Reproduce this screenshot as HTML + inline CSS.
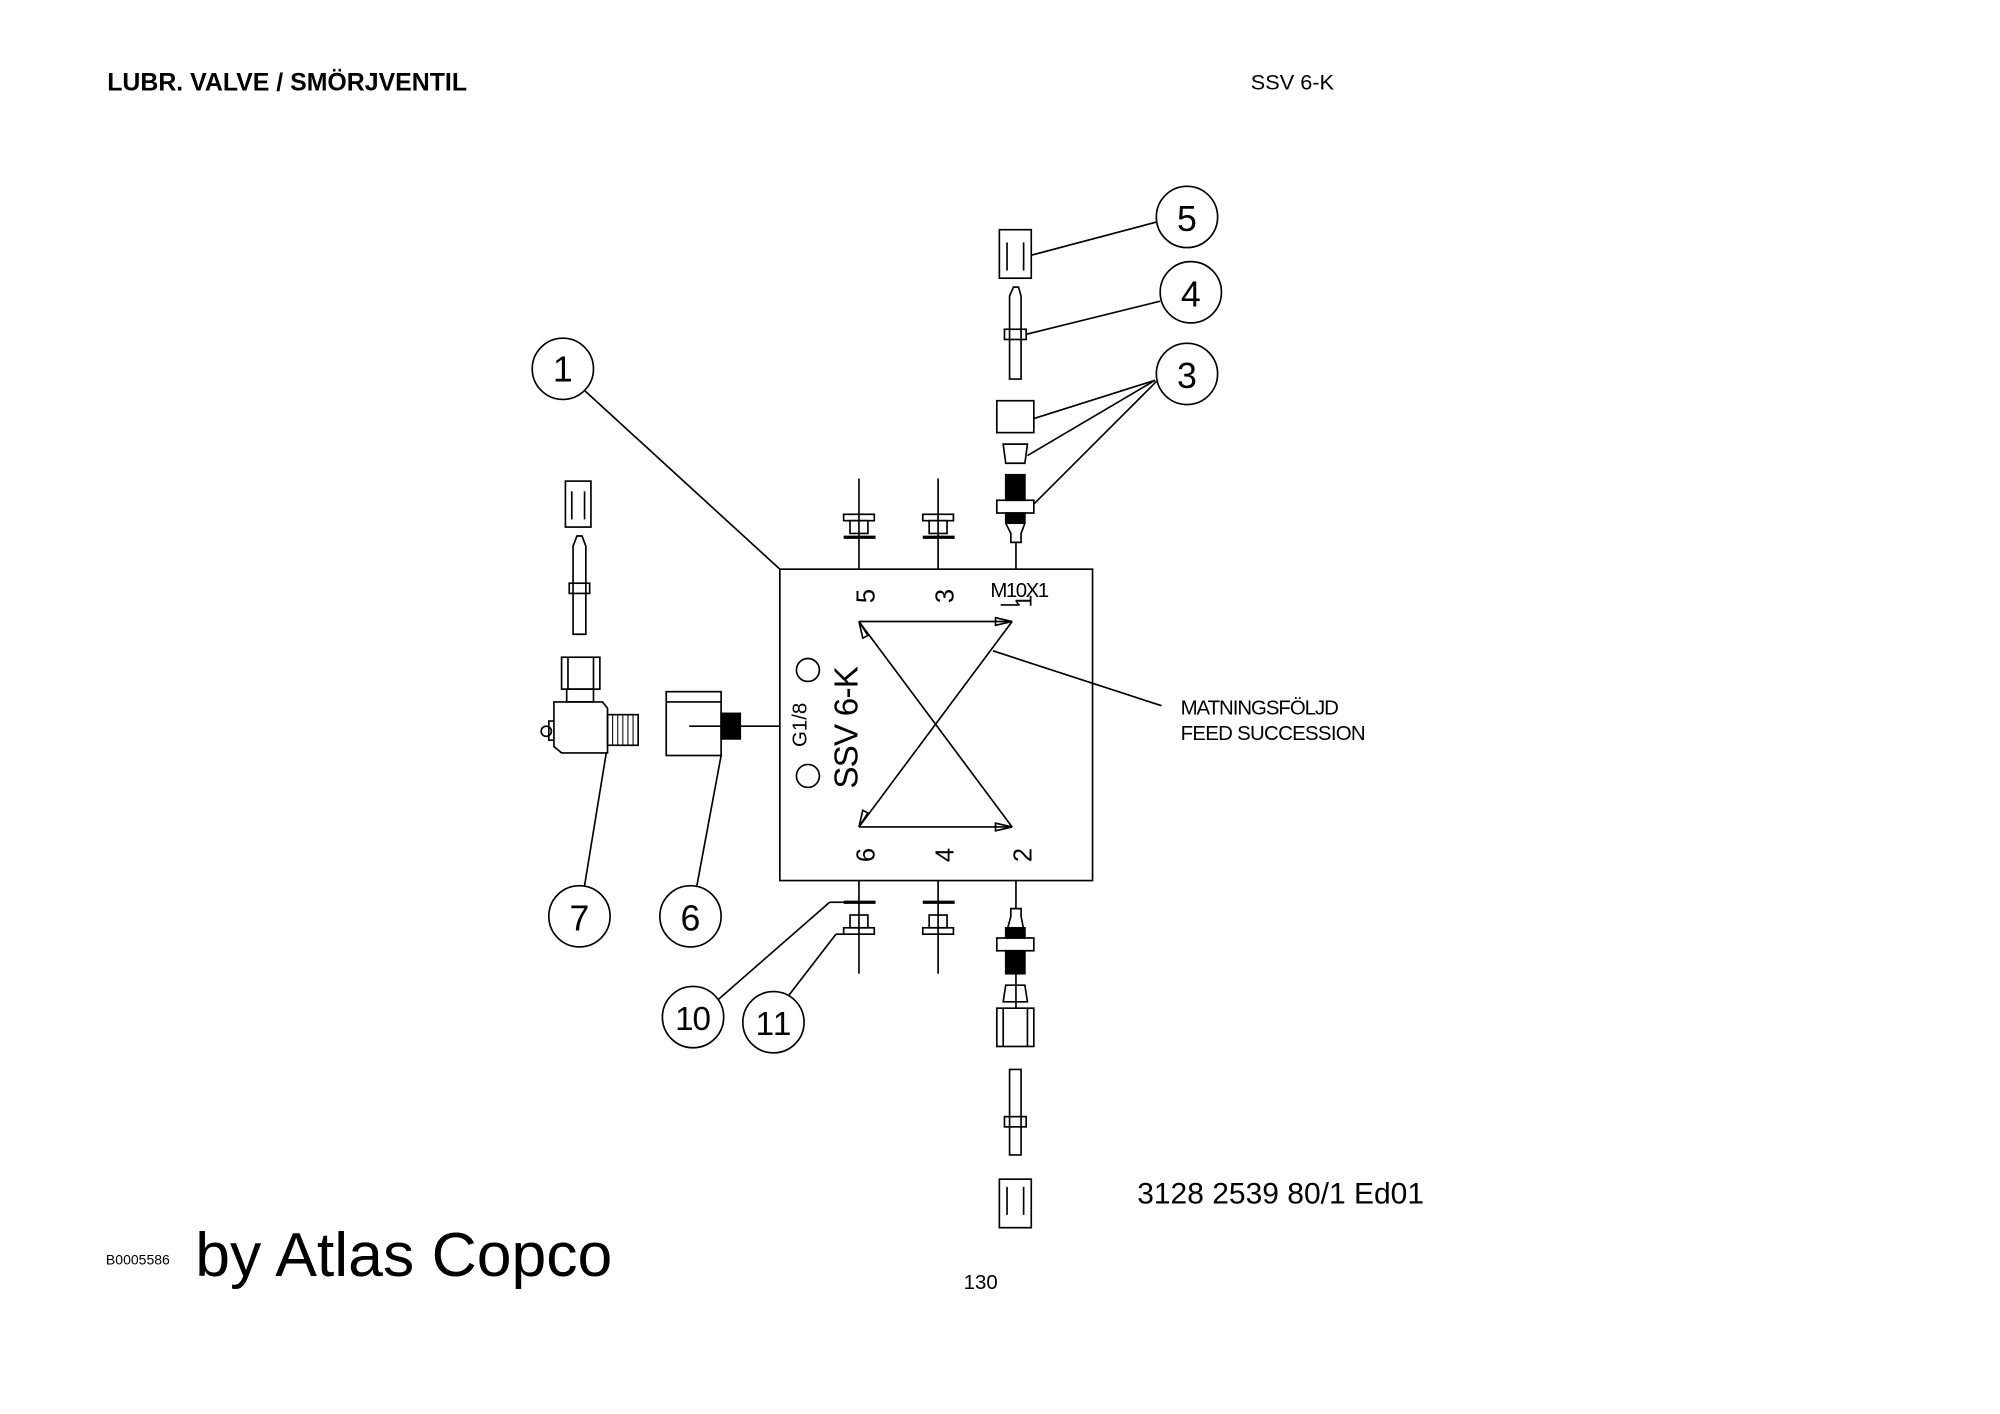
<!DOCTYPE html>
<html><head><meta charset="utf-8"><style>
html,body{margin:0;padding:0;background:#fff;width:2000px;height:1414px;overflow:hidden}
svg{display:block}
text{font-family:"Liberation Sans",sans-serif;fill:#000}
.n{font-family:"DejaVu Sans","Liberation Sans",sans-serif;font-weight:200}
</style></head><body>
<svg width="2000" height="1414" viewBox="0 0 1567 1108" preserveAspectRatio="none" xmlns="http://www.w3.org/2000/svg">
<g fill="none" stroke="#000" stroke-width="1.3">
<rect x="611" y="446" width="245" height="244"/>
<line x1="673" y1="375" x2="673" y2="446"/><line x1="735" y1="375" x2="735" y2="446"/>
<line x1="661" y1="421" x2="686" y2="421" stroke-width="2.5"/><line x1="723" y1="421" x2="748" y2="421" stroke-width="2.5"/>
<rect x="661" y="403" width="24" height="5"/><rect x="666" y="408" width="14" height="10"/>
<rect x="723" y="403" width="24" height="5"/><rect x="728" y="408" width="14" height="10"/>
<line x1="673" y1="690" x2="673" y2="763"/><line x1="735" y1="690" x2="735" y2="763"/>
<line x1="661" y1="707" x2="686" y2="707" stroke-width="2.5"/><line x1="723" y1="707" x2="748" y2="707" stroke-width="2.5"/>
<rect x="661" y="727" width="24" height="5"/><rect x="666" y="717" width="14" height="10"/>
<rect x="723" y="727" width="24" height="5"/><rect x="728" y="717" width="14" height="10"/>
<rect x="783" y="180" width="25" height="38"/><line x1="789" y1="190" x2="789" y2="212"/><line x1="802" y1="190" x2="802" y2="212"/>
<path d="M791 297V232L794 225H798L800 232V297Z"/><rect x="787" y="258" width="17" height="8"/>
<rect x="781" y="314" width="29" height="25"/>
<path d="M786 348H805L803 363H788Z"/>
<rect x="788" y="372" width="15" height="20" fill="#000"/>
<rect x="781" y="392" width="29" height="10"/>
<rect x="788" y="402" width="15" height="8" fill="#000"/>
<path d="M788 410L792 418V425H800V418L803 410"/>
<line x1="796" y1="425" x2="796" y2="446"/>
<line x1="796" y1="690" x2="796" y2="712"/>
<path d="M792 712V718L788 733H803L800 718V712Z"/>
<rect x="788" y="727" width="15" height="8" fill="#000"/>
<rect x="781" y="735" width="29" height="10"/>
<rect x="788" y="745" width="15" height="18" fill="#000"/>
<line x1="796" y1="763" x2="796" y2="790"/>
<path d="M788 772H803L805 785H786Z"/>
<rect x="781" y="790" width="29" height="30"/><line x1="786" y1="790" x2="786" y2="820"/><line x1="805" y1="790" x2="805" y2="820"/>
<path d="M791 838V905H800V838Z"/><rect x="787" y="875" width="17" height="8"/>
<rect x="783" y="924" width="25" height="38"/><line x1="789" y1="930" x2="789" y2="952"/><line x1="802" y1="930" x2="802" y2="952"/>
<rect x="443" y="377" width="20" height="36"/><line x1="448" y1="385" x2="448" y2="407"/><line x1="458" y1="385" x2="458" y2="407"/>
<path d="M449 497V428L452 420H456L459 428V497Z"/><rect x="446" y="457" width="16" height="8"/>
<rect x="440" y="515" width="30" height="25"/><line x1="445" y1="515" x2="445" y2="540"/><line x1="465" y1="515" x2="465" y2="540"/>
<rect x="444" y="540" width="21" height="10"/>
<path d="M438 550H472L476 555V590H440L434 585V550Z"/>
<rect x="476" y="560" width="24" height="24"/>
<path d="M480 560V584M484 560V584M488 560V584M492 560V584M496 560V584" stroke-width="0.8"/>
<path d="M434 565H430V580H434"/><circle cx="428" cy="573" r="4"/>
<rect x="522" y="542" width="43" height="50"/><line x1="522" y1="550" x2="565" y2="550"/>
<rect x="565" y="559" width="15" height="20" fill="#000"/>
<line x1="580" y1="569" x2="611" y2="569"/><line x1="540" y1="569" x2="565" y2="569"/>
<circle cx="441" cy="289" r="24"/><circle cx="930" cy="170" r="24"/><circle cx="933" cy="229" r="24"/>
<circle cx="930" cy="293" r="24"/><circle cx="454" cy="718" r="24"/><circle cx="541" cy="718" r="24"/>
<circle cx="543" cy="797" r="24"/><circle cx="606" cy="801" r="24"/>
<line x1="458" y1="306" x2="611" y2="446"/>
<line x1="808" y1="200" x2="906" y2="174"/>
<line x1="804" y1="262" x2="909" y2="236"/>
<line x1="810" y1="328" x2="905" y2="298"/>
<line x1="805" y1="357" x2="905" y2="298"/>
<line x1="810" y1="395" x2="906" y2="299"/>
<line x1="475" y1="590" x2="458" y2="694"/>
<line x1="565" y1="592" x2="546" y2="694"/>
<line x1="661" y1="707" x2="650" y2="707"/><line x1="650" y1="707" x2="563" y2="783"/>
<line x1="661" y1="732" x2="655" y2="732"/><line x1="655" y1="732" x2="618" y2="780"/>
<line x1="778" y1="510" x2="910" y2="553"/>
<circle cx="633" cy="525" r="9"/><circle cx="633" cy="608" r="9"/>
<line x1="673" y1="487" x2="793" y2="487"/><line x1="793" y1="487" x2="673" y2="648"/>
<line x1="673" y1="648" x2="793" y2="648"/><line x1="793" y1="648" x2="673" y2="487"/>
<path d="M780 484L793 487L780 490Z"/><path d="M780 645L793 648L780 651Z"/>
<path d="M673 487L680 498L676 500Z"/><path d="M673 648L676 635L680 637Z"/>
<line x1="784" y1="474" x2="799" y2="474"/>
</g>
<g class="n">
<text x="441" y="299" font-size="28" text-anchor="middle">1</text>
<text x="930" y="181" font-size="28" text-anchor="middle">5</text>
<text x="933" y="240" font-size="28" text-anchor="middle">4</text>
<text x="930" y="304" font-size="28" text-anchor="middle">3</text>
<text x="454" y="729" font-size="28" text-anchor="middle">7</text>
<text x="541" y="729" font-size="28" text-anchor="middle">6</text>
<text x="543" y="807" font-size="26" text-anchor="middle" textLength="28">10</text>
<text x="606" y="811" font-size="26" text-anchor="middle" textLength="28">11</text>
<text x="776" y="468" font-size="16" textLength="46">M10X1</text>
<text x="925" y="560" font-size="16" textLength="124">MATNINGSFÖLJD</text>
<text x="925" y="580" font-size="16" textLength="145">FEED SUCCESSION</text>
<text transform="translate(685,467) rotate(-90)" font-size="20" text-anchor="middle">5</text>
<text transform="translate(747,467) rotate(-90)" font-size="20" text-anchor="middle">3</text>
<text transform="translate(808,471) rotate(-90)" font-size="18" text-anchor="middle">1</text>
<text transform="translate(685,670) rotate(-90)" font-size="20" text-anchor="middle">6</text>
<text transform="translate(747,670) rotate(-90)" font-size="20" text-anchor="middle">4</text>
<text transform="translate(808,670) rotate(-90)" font-size="20" text-anchor="middle">2</text>
<text transform="translate(672,570) rotate(-90)" font-size="26" text-anchor="middle" textLength="96">SSV 6-K</text>
<text transform="translate(632,568) rotate(-90)" font-size="16" text-anchor="middle">G1/8</text>
</g>
<text x="84" y="71" font-size="19.5" font-weight="bold">LUBR. VALVE / SMÖRJVENTIL</text>
<text x="980" y="70" font-size="17">SSV 6-K</text>
<text x="891" y="943" font-size="23.5">3128 2539 80/1  Ed01</text>
<text x="83" y="991" font-size="11">B0005586</text>
<text x="153" y="1000" font-size="49">by Atlas Copco</text>
<text x="755" y="1010" font-size="16">130</text>
</svg>
</body></html>
